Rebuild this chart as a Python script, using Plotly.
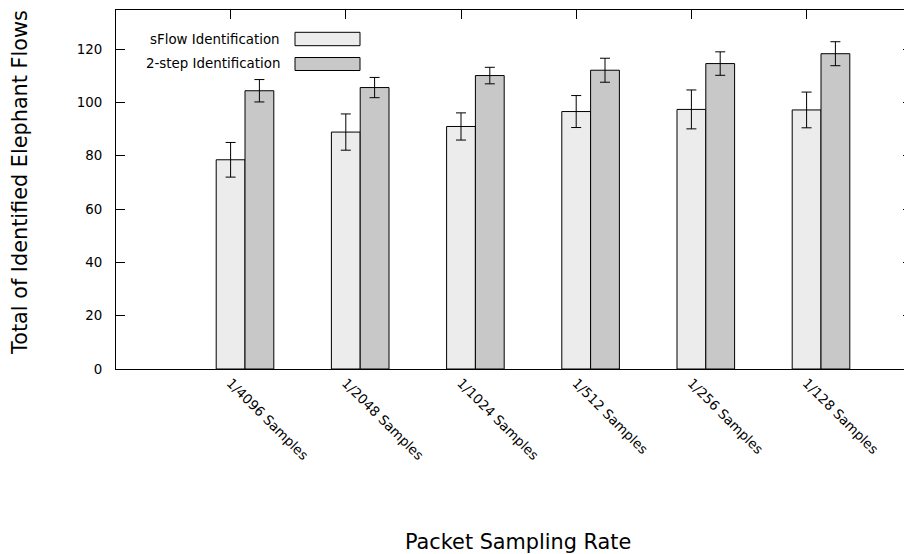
import plotly.graph_objects as go

categories = ["1/4096 Samples", "1/2048 Samples", "1/1024 Samples",
              "1/512 Samples", "1/256 Samples", "1/128 Samples"]
sflow_vals = [78.5, 88.9, 91.0, 96.6, 97.4, 97.2]
sflow_err = [6.5, 6.8, 5.1, 6.0, 7.3, 6.7]
twostep_vals = [104.4, 105.6, 110.1, 112.1, 114.6, 118.3]
twostep_err = [4.2, 3.8, 3.1, 4.5, 4.4, 4.5]
series_names = ["sFlow Identification", "2-step Identification"]
y_ticks = [0, 20, 40, 60, 80, 100, 120]

# page has an 8px body margin: the figure is drawn at (8, 8)
OFF = 8
PW, PH = 912, 554
W, H = PW - OFF, PH - OFF
L, R, T, B = 116 - OFF, 0, 10 - OFF, 185
pw, ph = W - L - R, H - T - B

def px(x):
    return (x - OFF - L) / pw

def py(y):
    return (H - B - (y - OFF)) / ph

xpos = list(range(len(categories)))
tickpos = [i - 0.125 for i in xpos]
unit = 115.2
x_left = -129 / unit

col1, col2 = "#ececec", "#c8c8c8"
fig = go.Figure()
fig.add_trace(go.Bar(
    x=xpos, y=sflow_vals, name=series_names[0],
    marker=dict(color=col1, line=dict(color="black", width=1)),
    error_y=dict(type="data", array=sflow_err, color="black", thickness=1, width=5),
))
fig.add_trace(go.Bar(
    x=xpos, y=twostep_vals, name=series_names[1],
    marker=dict(color=col2, line=dict(color="black", width=1)),
    error_y=dict(type="data", array=twostep_err, color="black", thickness=1, width=5),
))

font = "DejaVu Sans"
fig.update_layout(
    width=W, height=H,
    margin=dict(l=L, r=R, t=T, b=B, pad=0),
    paper_bgcolor="white", plot_bgcolor="white",
    barmode="group", bargap=0.5, bargroupgap=0,
    showlegend=False,
    font=dict(family=font, size=13.4, color="black"),
)
fig.update_xaxes(
    range=[x_left, x_left + pw / unit],
    tickmode="array", tickvals=tickpos, ticktext=categories,
    tickangle=45, ticks="inside", ticklen=9, tickcolor="black",
    showline=True, linecolor="black", linewidth=1, mirror="allticks",
    showgrid=False, zeroline=False, layer="below traces",
    tickfont=dict(family=font, size=13.4),
)
fig.update_yaxes(
    range=[0, 134.7],
    tickmode="array", tickvals=y_ticks,
    ticks="inside", ticklen=9, tickcolor="black",
    showline=True, linecolor="black", linewidth=1, mirror="allticks",
    showgrid=False, zeroline=False, ticklabelstandoff=10,
    tickfont=dict(family=font, size=13.4),
)

annotations = [
    dict(text="Total of Identified Elephant Flows", x=px(20), y=py(183),
         xref="paper", yref="paper", showarrow=False, textangle=-90,
         xanchor="center", yanchor="middle", font=dict(family=font, size=20.8)),
    dict(text="Packet Sampling Rate", x=px(518), y=py(542),
         xref="paper", yref="paper", showarrow=False,
         xanchor="center", yanchor="middle", font=dict(family=font, size=20.8)),
]
shapes = []
leg_rows = [(39, 32.3, 45.7, col1), (64, 57.5, 70.5, col2)]
for name, (ty, y0, y1, c) in zip(series_names, leg_rows):
    annotations.append(dict(text=name, x=px(282), y=py(ty), xref="paper", yref="paper",
                            showarrow=False, xanchor="right", yanchor="middle",
                            font=dict(family=font, size=13.4)))
    shapes.append(dict(type="rect", xref="paper", yref="paper",
                       x0=px(295), x1=px(360), y0=py(y1), y1=py(y0),
                       fillcolor=c, line=dict(color="black", width=1)))
fig.update_layout(annotations=annotations, shapes=shapes)

fig.write_html("out.html")
